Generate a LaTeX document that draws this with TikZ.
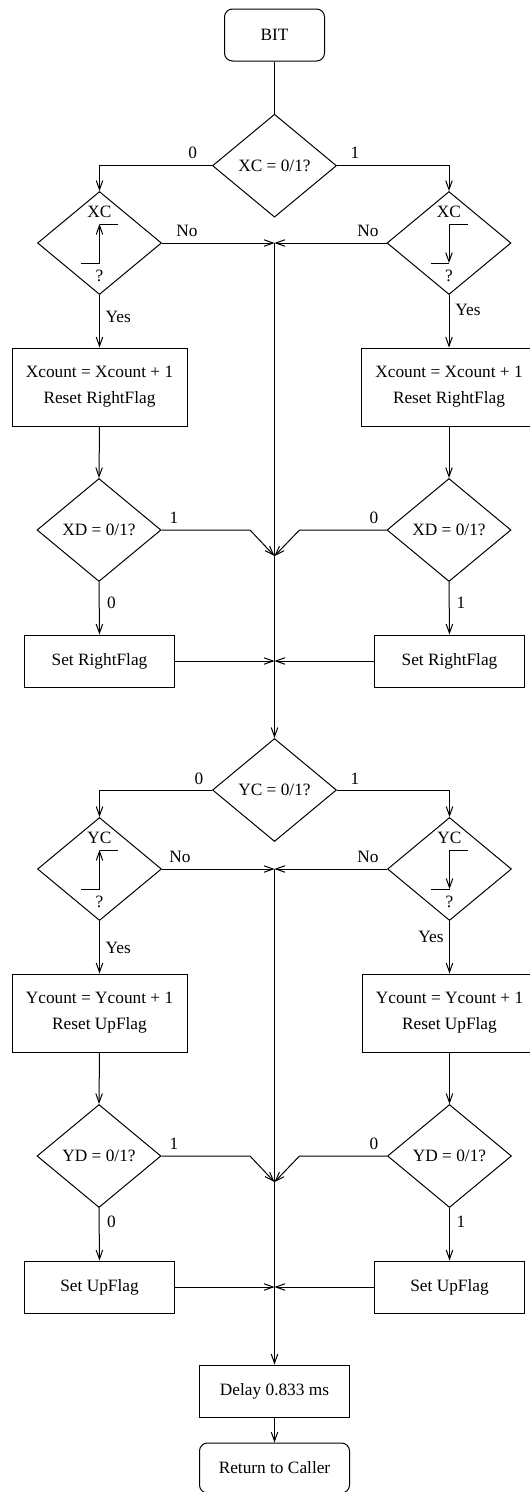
\documentclass[tikz,border=0pt]{standalone}
\usepackage{fontspec}
\setmainfont{Liberation Serif}
\usetikzlibrary{shapes.geometric,arrows.meta}

\tikzset{
  base/.style={draw, inner sep=0pt, align=center, font=\fontsize{17.3}{26}\selectfont},
  procbox/.style={base, rectangle, minimum height=52pt},
  widebox/.style={base, rectangle, minimum width=175pt, minimum height=78pt},
  termbox/.style={base, rectangle, rounded corners=8pt, minimum width=100pt, minimum height=52pt},
  decision/.style={base, diamond, minimum width=124pt, minimum height=103pt},
  lbl/.style={inner sep=0pt, font=\fontsize{17.3}{20}\selectfont},
  arr/.style={-{Straight Barb[length=9pt,width=6.5pt]}},
  rise/.pic={
    \draw (-18.5,20) -- (0,20);
    \draw[arr] (0,20) -- (0,-19);
    \draw (0,-19) -- (18.5,-19);
  },
  fall/.pic={
    \draw (0,-19) -- (18.5,-19);
    \draw[arr] (0,-19) -- (0,20);
    \draw (-18.5,20) -- (0,20);
  },
}

\begin{document}
\begin{tikzpicture}[x=1pt, y=-1pt, line width=1pt]
\useasboundingbox (0,0) rectangle (530,1492);

% ---------------- start ----------------
\node[termbox] (bit) at (274.5,35) {BIT};

% ---------------- X channel ----------------
\node[decision] (xc) at (274.5,165.7) {XC = 0/1?};
\node[decision] (xcl) at (99.5,243) {};
\node[decision] (xcr) at (449,243) {};
\node[lbl] at (99.5,212) {XC};
\node[lbl] at (99.5,276) {?};
\node[lbl] at (449,212) {XC};
\node[lbl] at (449,276) {?};
\pic at (xcl.center) {rise};
\pic at (xcr.center) {fall};

\node[widebox] (xcntl) at (99.5,387) {Xcount = Xcount + 1\\Reset RightFlag};
\node[widebox] (xcntr) at (449,387) {Xcount = Xcount + 1\\Reset RightFlag};

\node[decision] (xdl) at (99,530) {XD = 0/1?};
\node[decision] (xdr) at (449,530) {XD = 0/1?};

\node[procbox, minimum width=150pt] (setxl) at (99.5,661) {Set RightFlag};
\node[procbox, minimum width=150pt] (setxr) at (449.5,661) {Set RightFlag};

\coordinate (jx1) at (274.5,243);
\coordinate (jx2) at (274.5,556);
\coordinate (jx3) at (274.5,661);
\coordinate (bxl) at (250,530);
\coordinate (bxr) at (299.5,530);

\draw (bit) -- (xc);
\draw[arr] (xc.west) -| (xcl.north);
\draw[arr] (xc.east) -| (xcr.north);
\node[lbl] at (192.7,153) {0};
\node[lbl] at (355,153) {1};

\draw[arr] (xcl.east) -- (jx1);
\draw[arr] (xcr.west) -- (jx1);
\node[lbl] at (187,231) {No};
\node[lbl] at (368,231) {No};

\draw[arr] (xcl.south) -- (xcntl.north);
\draw[arr] (xcr.south) -- (xcntr.north);
\node[lbl] at (118.3,317) {Yes};
\node[lbl] at (468,310) {Yes};

\draw[arr] (xcntl.south) -- (xdl.north);
\draw[arr] (xcntr.south) -- (xdr.north);

\draw[arr] (xdl.east) -- (bxl) -- (jx2);
\draw[arr] (xdr.west) -- (bxr) -- (jx2);
\node[lbl] at (174,518) {1};
\node[lbl] at (374,518) {0};

\draw[arr] (xdl.south) -- (setxl.north);
\draw[arr] (xdr.south) -- (setxr.north);
\node[lbl] at (111.5,603) {0};
\node[lbl] at (461,603) {1};

\draw[arr] (setxl.east) -- (jx3);
\draw[arr] (setxr.west) -- (jx3);

% ---------------- Y channel ----------------
\node[decision] (yc) at (274.5,790) {YC = 0/1?};
\node[decision] (ycl) at (99.5,869) {};
\node[decision] (ycr) at (449.5,869) {};
\node[lbl] at (99.5,838) {YC};
\node[lbl] at (99.5,902) {?};
\node[lbl] at (449.5,838) {YC};
\node[lbl] at (449.5,902) {?};
\pic at (ycl.center) {rise};
\pic at (ycr.center) {fall};

\node[widebox] (ycntl) at (99.5,1013) {Ycount = Ycount + 1\\Reset UpFlag};
\node[widebox] (ycntr) at (449.5,1013) {Ycount = Ycount + 1\\Reset UpFlag};

\node[decision] (ydl) at (99,1156) {YD = 0/1?};
\node[decision] (ydr) at (449.5,1156) {YD = 0/1?};

\node[procbox, minimum width=150pt] (setyl) at (99.5,1287) {Set UpFlag};
\node[procbox, minimum width=150pt] (setyr) at (449.5,1287) {Set UpFlag};

\coordinate (jy1) at (274.5,869);
\coordinate (jy2) at (274.5,1182);
\coordinate (jy3) at (274.5,1287);
\coordinate (byl) at (250,1156);
\coordinate (byr) at (299.5,1156);

\draw[arr] (jx1) -- (yc.north);
\draw[arr] (yc.west) -| (ycl.north);
\draw[arr] (yc.east) -| (ycr.north);
\node[lbl] at (199,779) {0};
\node[lbl] at (355,779) {1};

\draw[arr] (ycl.east) -- (jy1);
\draw[arr] (ycr.west) -- (jy1);
\node[lbl] at (180,857) {No};
\node[lbl] at (368,857) {No};

\draw[arr] (ycl.south) -- (ycntl.north);
\draw[arr] (ycr.south) -- (ycntr.north);
\node[lbl] at (118.3,948) {Yes};
\node[lbl] at (431,937) {Yes};

\draw[arr] (ycntl.south) -- (ydl.north);
\draw[arr] (ycntr.south) -- (ydr.north);

\draw[arr] (ydl.east) -- (byl) -- (jy2);
\draw[arr] (ydr.west) -- (byr) -- (jy2);
\node[lbl] at (174,1144) {1};
\node[lbl] at (374,1144) {0};

\draw[arr] (ydl.south) -- (setyl.north);
\draw[arr] (ydr.south) -- (setyr.north);
\node[lbl] at (111.5,1222) {0};
\node[lbl] at (461,1222) {1};

\draw[arr] (setyl.east) -- (jy3);
\draw[arr] (setyr.west) -- (jy3);

% ---------------- end ----------------
\node[procbox, minimum width=150pt] (delay) at (274.5,1391) {Delay 0.833 ms};
\node[termbox, minimum width=150pt, minimum height=50pt] (ret) at (274.5,1468) {Return to Caller};

\draw[arr] (jy1) -- (delay.north);
\draw[arr] (delay) -- (ret);
\end{tikzpicture}
\end{document}
